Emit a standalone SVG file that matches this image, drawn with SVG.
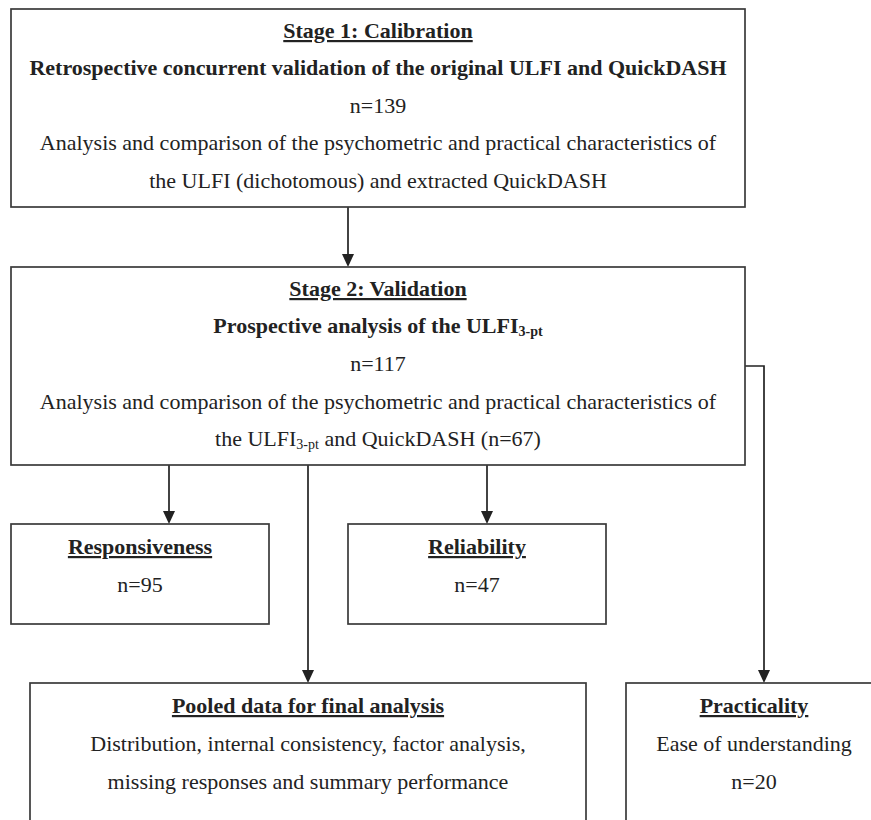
<svg xmlns="http://www.w3.org/2000/svg" width="871" height="820" viewBox="0 0 871 820">
<defs>
<style>
text{font-family:"Liberation Serif","Times New Roman",serif;font-size:22px;fill:#222;text-anchor:middle}
.b{font-weight:bold}
.u{text-decoration:underline}
.box{fill:#fff;stroke:#3a3a3a;stroke-width:1.7}
.c{fill:none;stroke:#222;stroke-width:1.7}
.sub{font-size:14px}
.ah{fill:#222}
</style>
</defs>
<rect width="871" height="820" fill="#fff"/>
<g id="connectors">
<path class="c" d="M348,207 V255"/>
<path class="ah" d="M342,254 L354,254 L348,267 Z"/>
<path class="c" d="M169,465 V512"/>
<path class="ah" d="M163,511 L175,511 L169,524 Z"/>
<path class="c" d="M487,465 V512"/>
<path class="ah" d="M481,511 L493,511 L487,524 Z"/>
<path class="c" d="M308,465 V671"/>
<path class="ah" d="M302,670 L314,670 L308,683 Z"/>
<path class="c" d="M745,366 H764 V671"/>
<path class="ah" d="M758,670 L770,670 L764,683 Z"/>
</g>
<g id="stage1">
<rect class="box" x="11" y="9" width="734" height="198"/>
<text class="b u" x="378" y="38">Stage 1: Calibration</text>
<text class="b" x="378" y="75">Retrospective concurrent validation of the original ULFI and QuickDASH</text>
<text x="378" y="113">n=139</text>
<text x="378" y="150">Analysis and comparison of the psychometric and practical characteristics of</text>
<text x="378" y="188">the ULFI (dichotomous) and extracted QuickDASH</text>
</g>
<g id="stage2">
<rect class="box" x="11" y="267" width="734" height="198"/>
<text class="b u" x="378" y="296">Stage 2: Validation</text>
<text class="b" x="378" y="333">Prospective analysis of the ULFI<tspan class="sub" dy="3">3-pt</tspan></text>
<text x="378" y="371">n=117</text>
<text x="378" y="409">Analysis and comparison of the psychometric and practical characteristics of</text>
<text x="378" y="446">the ULFI<tspan class="sub" dy="3">3-pt</tspan><tspan dy="-3"> and QuickDASH (n=67)</tspan></text>
</g>
<g id="responsiveness">
<rect class="box" x="11" y="524" width="258" height="100"/>
<text class="b u" x="140" y="554">Responsiveness</text>
<text x="140" y="592">n=95</text>
</g>
<g id="reliability">
<rect class="box" x="348" y="524" width="258" height="100"/>
<text class="b u" x="477" y="554">Reliability</text>
<text x="477" y="592">n=47</text>
</g>
<g id="pooled">
<rect class="box" x="30" y="683" width="556" height="160"/>
<text class="b u" x="308" y="713">Pooled data for final analysis</text>
<text x="308" y="751">Distribution, internal consistency, factor analysis,</text>
<text x="308" y="789">missing responses and summary performance</text>
</g>
<g id="practicality">
<rect class="box" x="626" y="683" width="260" height="160"/>
<text class="b u" x="754" y="713">Practicality</text>
<text x="754" y="751">Ease of understanding</text>
<text x="754" y="789">n=20</text>
</g>
</svg>
